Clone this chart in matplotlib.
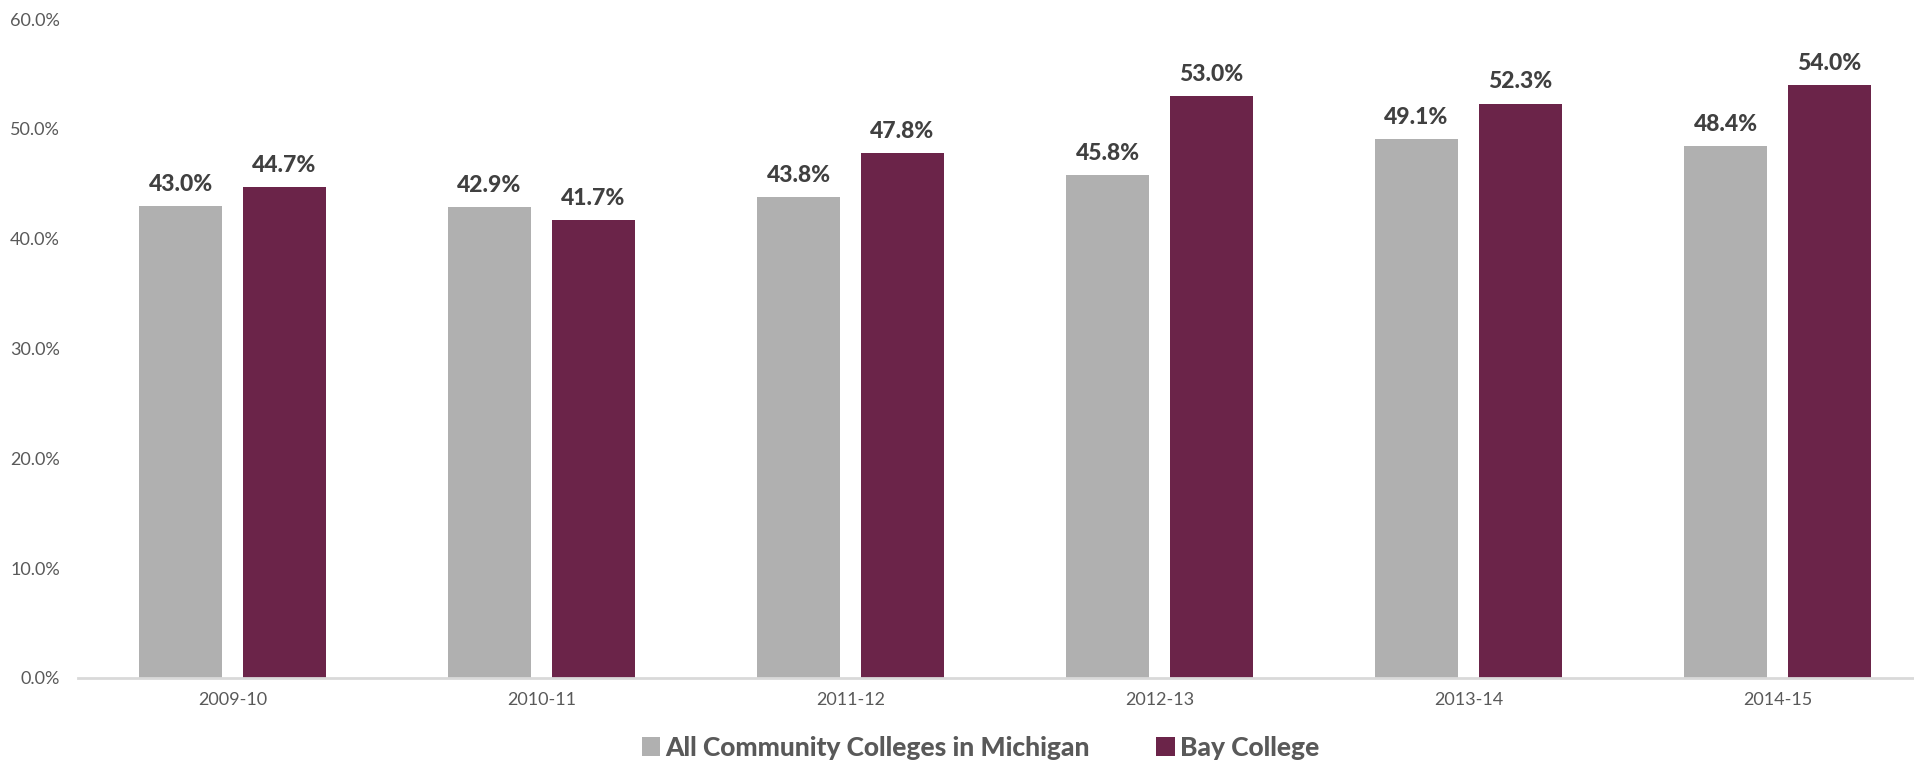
import matplotlib
matplotlib.use("Agg")
import matplotlib.pyplot as plt
import numpy as np
from matplotlib.patches import Patch
from matplotlib.ticker import FuncFormatter

plt.rcParams['font.family'] = ['Lato', 'DejaVu Sans']

years = ["2009-10", "2010-11", "2011-12", "2012-13", "2013-14", "2014-15"]
michigan = [43.0, 42.9, 43.8, 45.8, 49.1, 48.4]
bay = [44.7, 41.7, 47.8, 53.0, 52.3, 54.0]
series_names = ["All Community Colleges in Michigan", "Bay College"]
colors = ["#B0B0B0", "#6B2449"]

W, H = 1915, 764
fig = plt.figure(figsize=(W / 100, H / 100), dpi=100)
ax = fig.add_axes([78 / W, 86 / H, 1854 / W, 659 / H])

x = np.arange(len(years))
width = 0.268
offset = 0.168

for vals, off, col in [(michigan, -offset, colors[0]), (bay, offset, colors[1])]:
    bars = ax.bar(x + off, vals, width, color=col, zorder=2)
    for b, v in zip(bars, vals):
        ax.annotate(f"{v:.1f}%", (b.get_x() + b.get_width() / 2, v),
                    xytext=(0, 8), textcoords="offset points",
                    ha="center", va="bottom", fontsize=16.5, fontweight=900,
                    color="#404040")

ax.set_xlim(-0.5, len(years) - 0.5)
ax.set_ylim(0, 60)
ax.set_yticks(np.arange(0, 61, 10))
ax.yaxis.set_major_formatter(FuncFormatter(lambda v, p: f"{v:.1f}%"))
ax.set_xticks(x)
ax.set_xticklabels(years)
ax.tick_params(axis="both", length=0, labelsize=13, labelcolor="#595959")
ax.tick_params(axis="y", pad=13)
ax.tick_params(axis="x", pad=10)

for s in ["top", "right", "left"]:
    ax.spines[s].set_visible(False)
ax.spines["bottom"].set_color("#D9D9D9")
ax.spines["bottom"].set_linewidth(2)

handles = [Patch(facecolor=c, edgecolor="none") for c in colors]
leg = fig.legend(handles, series_names, loc="center", bbox_to_anchor=(0.512, 0.021),
                 ncol=2, frameon=False, handlelength=0.7, handleheight=0.7,
                 handletextpad=0.2, columnspacing=2.5,
                 prop={"size": 19, "weight": 900})
for t in leg.get_texts():
    t.set_color("#595959")

fig.savefig("out.png", dpi=100)
